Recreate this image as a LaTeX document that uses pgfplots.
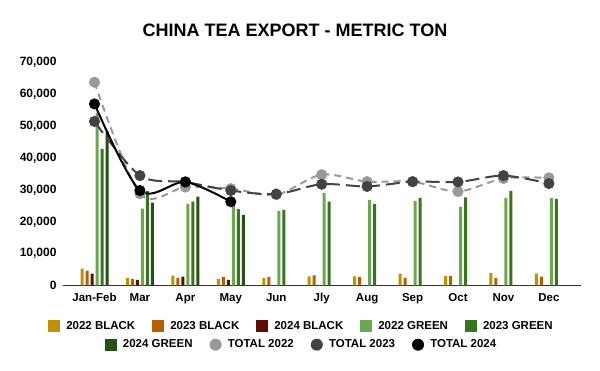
\documentclass[border=0pt]{standalone}
\usepackage{fontspec}
\setmainfont{Liberation Sans}
\usepackage{pgfplots}
\pgfplotsset{compat=1.18}
\definecolor{cBa}{HTML}{BF9000}
\definecolor{cBb}{HTML}{B45F06}
\definecolor{cBc}{HTML}{5B0F00}
\definecolor{cGa}{HTML}{6AA84F}
\definecolor{cGb}{HTML}{38761D}
\definecolor{cGc}{HTML}{274E13}
\definecolor{tA}{HTML}{999999}
\definecolor{tB}{HTML}{434343}
\definecolor{tC}{HTML}{000000}
\definecolor{axc}{HTML}{333333}
\pgfplotsset{
  sqleg/.style={legend image code/.code={\fill[##1,draw=none] (0pt,-6pt) rectangle (12pt,6pt); \path (16pt,0pt);}},
  cirleg/.style={legend image code/.code={\fill[##1,draw=none] (6pt,0pt) circle (6pt); \path (16pt,0pt);}},
  base/.style={
    scale only axis, width=518pt, height=223pt,
    xmin=-0.7, xmax=10.7, ymin=0, ymax=70000,
    enlargelimits=false,
  },
  legsty/.style={
    legend style={draw=none, fill=none, anchor=center,
      font=\bfseries\fontsize{11.5}{13}\selectfont,
      /tikz/every even column/.append style={column sep=15pt}},
  },
}
\begin{document}
\begin{tikzpicture}
\path[use as bounding box] (-62.7pt,-85.5pt) rectangle (537.3pt,285.5pt);
\begin{axis}[base, legsty,
  legend columns=5,
  legend style={at={(0.461,-0.1816)}},
  ybar, bar width=3pt,
  axis x line*=bottom, axis y line*=left,
  y axis line style={draw=none},
  x axis line style={-, draw=axc, line width=1pt},
  major tick length=0pt,
  xtick={0,...,10},
  xticklabels={Jan-Feb,Mar,Apr,May,Jun,Jly,Aug,Sep,Oct,Nov,Dec},
  ytick={0,10000,...,70000},
  scaled y ticks=false,
  /pgf/number format/.cd, 1000 sep={,}, assume math mode=true, /pgfplots/.cd,
  xticklabel style={font=\bfseries\fontsize{11.5}{13}\selectfont, yshift=-4.5pt},
  yticklabel style={font=\bfseries\fontsize{12}{14}\selectfont, xshift=-2.7pt},
]
\addplot[fill=cBa, draw=none, bar shift=-12.5pt, sqleg] coordinates {(0,5300)(1,2400)(2,3100)(3,2100)(4,2400)(5,2900)(6,2900)(7,3700)(8,3000)(9,4000)(10,3700)};
\addlegendentry{2022 BLACK}
\addplot[fill=cBb, draw=none, bar shift=-7.5pt, sqleg] coordinates {(0,4700)(1,2100)(2,2400)(3,2700)(4,2700)(5,3200)(6,2700)(7,2400)(8,3000)(9,2400)(10,2800)};
\addlegendentry{2023 BLACK}
\addplot[fill=cBc, draw=none, bar shift=-2.5pt, sqleg] coordinates {(0,3700)(1,1800)(2,2800)(3,1800)};
\addlegendentry{2024 BLACK}
\addplot[fill=cGa, draw=none, bar shift=2.5pt, sqleg] coordinates {(0,54200)(1,24100)(2,25700)(3,25400)(4,23400)(5,29100)(6,26900)(7,26600)(8,24700)(9,27500)(10,27500)};
\addlegendentry{2022 GREEN}
\addplot[fill=cGb, draw=none, bar shift=7.5pt, sqleg] coordinates {(0,42900)(1,29600)(2,26300)(3,24000)(4,23700)(5,26300)(6,25600)(7,27500)(8,27700)(9,29700)(10,27200)};
\addlegendentry{2023 GREEN}
\addplot[fill=cGc, draw=none, bar shift=12.5pt, forget plot] coordinates {(0,48400)(1,26000)(2,27900)(3,22200)};
% totals
\addplot[forget plot, smooth, color=tA, line width=2pt, dash pattern=on 7pt off 5pt, mark=*, mark size=4.5pt, mark options={solid, fill=tA, draw=none}] coordinates {(0,63800)(1,28800)(2,30900)(3,30400)(4,28500)(5,34800)(6,32600)(7,32600)(8,29500)(9,33600)(10,33800)};
\addplot[forget plot, smooth, color=tB, line width=2pt, dash pattern=on 14pt off 6pt, mark=*, mark size=4.5pt, mark options={solid, fill=tB, draw=none}] coordinates {(0,51500)(1,34500)(2,32500)(3,29800)(4,28700)(5,31800)(6,31100)(7,32600)(8,32500)(9,34500)(10,32000)};
\addplot[forget plot, smooth, color=tC, line width=2pt, mark=*, mark size=4.5pt, mark options={solid, fill=tC, draw=none}] coordinates {(0,57000)(1,29800)(2,32500)(3,26300)};
\end{axis}
\begin{axis}[base, hide axis, legsty,
  legend columns=4,
  legend style={at={(0.461,-0.2655)}},
]
\addlegendimage{sqleg, fill=cGc}
\addlegendentry{2024 GREEN}
\addlegendimage{cirleg, fill=tA}
\addlegendentry{TOTAL 2022}
\addlegendimage{cirleg, fill=tB}
\addlegendentry{TOTAL 2023}
\addlegendimage{cirleg, fill=tC}
\addlegendentry{TOTAL 2024}
\end{axis}
\node[font=\bfseries\fontsize{18}{20}\selectfont] at (232.3pt,254.7pt) {CHINA TEA EXPORT - METRIC TON};
\end{tikzpicture}
\end{document}
